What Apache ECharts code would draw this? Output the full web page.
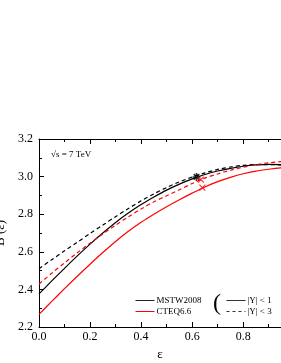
<!DOCTYPE html>
<html><head><meta charset="utf-8">
<script src="https://cdn.jsdelivr.net/npm/echarts@6/dist/echarts.min.js"></script>
<style>html,body{margin:0;padding:0;background:#fff}#c{width:281px;height:363px}</style>
</head><body><div id="c"></div>
<script>
const eps = [0,0.05,0.1,0.15,0.2,0.25,0.3,0.35,0.4,0.45,0.5,0.55,0.6,0.65,0.7,0.75,0.8,0.85,0.9,0.95,1.0];
const mstwY1 = [2.376,2.445,2.512,2.578,2.641,2.700,2.756,2.806,2.851,2.891,2.928,2.960,2.988,3.011,3.030,3.044,3.055,3.062,3.065,3.064,3.061];
const mstwY3 = [2.510,2.558,2.605,2.651,2.697,2.742,2.787,2.830,2.871,2.908,2.942,2.972,2.998,3.020,3.038,3.051,3.060,3.064,3.064,3.062,3.058];
const cteqY1 = [2.267,2.336,2.404,2.470,2.534,2.596,2.655,2.709,2.757,2.800,2.840,2.877,2.912,2.945,2.973,2.996,3.015,3.029,3.039,3.047,3.052];
const cteqY3 = [2.429,2.486,2.541,2.595,2.646,2.695,2.742,2.786,2.828,2.866,2.898,2.930,2.963,2.992,3.014,3.034,3.050,3.063,3.073,3.080,3.085];
const starPts = [[0.617, 2.998]];
const crossPts = [[0.634, 2.984], [0.64, 2.941]];
const xTicks = {min: 0, max: 0.948, interval: 0.2};
const yTicks = {min: 2.2, max: 3.2, interval: 0.2};

const FONT = 'Liberation Serif';
const pair = (ys) => eps.map((e, i) => [e, ys[i]]);
const chart = echarts.init(document.getElementById('c'));
const axisCommon = {
  axisLine: {show: true, onZero: false, lineStyle: {color: '#000', width: 1}},
  axisTick: {show: true, inside: true, length: 5, lineStyle: {color: '#000'}},
  minorTick: {show: true, splitNumber: 2, length: 3, lineStyle: {color: '#000'}},
  splitLine: {show: false}
};
const legendCommon = {orient: 'vertical', padding: 0, itemWidth: 19, itemHeight: 8, itemGap: 2, selectedMode: false,
  itemStyle: {color: 'rgba(0,0,0,0)', borderWidth: 0, opacity: 0},
  lineStyle: {width: 1},
  textStyle: {fontFamily: FONT, fontSize: 9, color: '#000', padding: [0, 0, 0, -3]}};
chart.setOption({
  animation: false,
  textStyle: {fontFamily: FONT},
  grid: {left: 39, right: 0, top: 139, bottom: 36, containLabel: false, outerBoundsMode: 'none'},
  xAxis: [
    Object.assign({type: 'value', position: 'bottom', min: xTicks.min, max: xTicks.max, interval: xTicks.interval,
      name: 'ε', nameLocation: 'middle', nameGap: 20,
      nameTextStyle: {fontFamily: FONT, fontSize: 13, color: '#000'},
      axisLabel: {fontFamily: FONT, fontSize: 12, color: '#000', margin: 4, showMaxLabel: false,
        formatter: v => v.toFixed(1)}}, axisCommon),
    Object.assign({type: 'value', position: 'top', min: xTicks.min, max: xTicks.max, interval: xTicks.interval,
      axisLabel: {show: false}}, axisCommon)
  ],
  yAxis: [
    Object.assign({type: 'value', min: yTicks.min, max: yTicks.max, interval: yTicks.interval,
      name: 'B (ε)', nameLocation: 'middle', nameGap: 19, nameRotate: 90,
      nameTextStyle: {fontFamily: FONT, fontSize: 13, color: '#000'},
      axisLabel: {fontFamily: FONT, fontSize: 12, color: '#000', margin: 6,
        formatter: v => v.toFixed(1)}}, axisCommon)
  ],
  legend: [
    Object.assign({left: 135, top: 296, data: ['MSTW2008', 'CTEQ6.6']}, legendCommon),
    Object.assign({left: 226, top: 296, data: ['|Y| < 1', '|Y| < 3']}, legendCommon)
  ],
  graphic: [
    {type: 'text', left: 51, top: 150, style: {text: '√s = 7 TeV', font: '9px "Liberation Serif"', fill: '#000'}},
    {type: 'text', left: 213, top: 292, style: {text: '(', font: '24px "Liberation Serif"', fill: '#000'}}
  ],
  series: [
    {name: 'MSTW2008 |Y|<1', type: 'line', data: pair(mstwY1), smooth: 0.3, symbol: 'none', clip: true,
      lineStyle: {color: '#000', width: 1.2}},
    {name: 'MSTW2008 |Y|<3', type: 'line', data: pair(mstwY3), smooth: 0.3, symbol: 'none', clip: true,
      lineStyle: {color: '#000', width: 1.2, type: [4, 3]}},
    {name: 'CTEQ6.6 |Y|<1', type: 'line', data: pair(cteqY1), smooth: 0.3, symbol: 'none', clip: true,
      lineStyle: {color: '#ff0000', width: 1.2}},
    {name: 'CTEQ6.6 |Y|<3', type: 'line', data: pair(cteqY3), smooth: 0.3, symbol: 'none', clip: true,
      lineStyle: {color: '#ff0000', width: 1.2, type: [4, 3]}},
    {name: 'star', type: 'scatter', data: starPts, symbol: 'path://M0,5L10,5M1.5,1.5L8.5,8.5M8.5,1.5L1.5,8.5M5,0L5,10', symbolSize: 8,
      itemStyle: {color: 'none', borderColor: '#000', borderWidth: 1.6}, z: 5},
    {name: 'cross', type: 'scatter', data: crossPts, symbol: 'path://M0,0L10,10M10,0L0,10', symbolSize: 6,
      itemStyle: {color: 'none', borderColor: '#ff0000', borderWidth: 1.2}, z: 5},
    {name: 'MSTW2008', type: 'line', data: [], symbol: 'none', itemStyle: {color: '#000'}, lineStyle: {color: '#222', width: 1}},
    {name: 'CTEQ6.6', type: 'line', data: [], symbol: 'none', itemStyle: {color: '#ff0000'}, lineStyle: {color: '#ff0000', width: 1}},
    {name: '|Y| < 1', type: 'line', data: [], symbol: 'none', itemStyle: {color: '#333'}, lineStyle: {color: '#333', width: 1}},
    {name: '|Y| < 3', type: 'line', data: [], symbol: 'none', itemStyle: {color: '#333'}, lineStyle: {color: '#333', width: 1, type: [3, 3]}}
  ]
});
</script></body></html>
